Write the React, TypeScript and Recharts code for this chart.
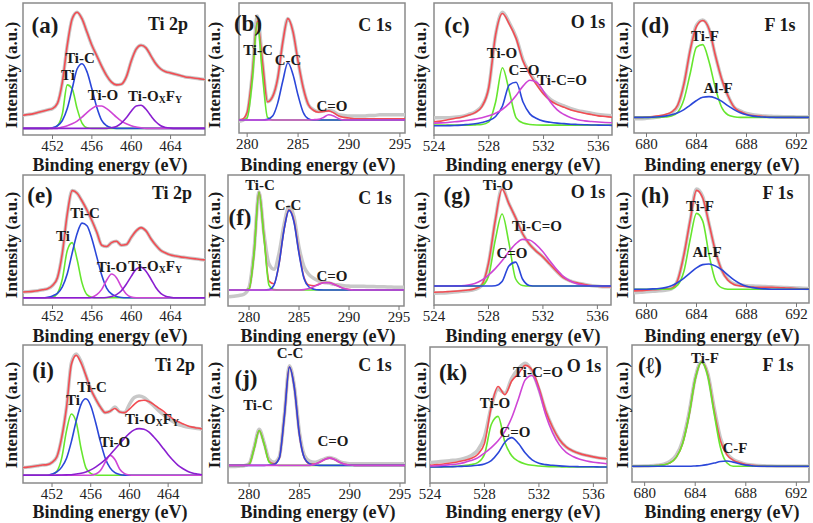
import React from "react";
import { LineChart, Line, XAxis, YAxis, ReferenceArea } from "recharts";

// binding-energy grids (eV)
const ti2pEV = [449,449.5,450,450.5,451,451.5,452,452.5,453,453.5,454,454.5,455,455.5,456,456.5,457,457.5,458,458.5,459,459.5,460,460.5,461,461.5,462,462.5,463,463.5,464,464.5,465,465.5,466,466.5,467,467.5];
const c1sEV = [278,278.5,279,279.5,280,280.5,281,281.5,282,282.5,283,283.5,284,284.5,285,285.5,286,286.5,287,287.5,288,288.5,289,289.5,290,290.5,291,291.5,292,292.5,293,293.5,294,294.5,295,295.5];
const o1sEV = [524,524.5,525,525.5,526,526.5,527,527.5,528,528.5,529,529.5,530,530.5,531,531.5,532,532.5,533,533.5,534,534.5,535,535.5,536,536.5,537];
const f1sEV = [679,679.5,680,680.5,681,681.5,682,682.5,683,683.5,684,684.5,685,685.5,686,686.5,687,687.5,688,688.5,689,689.5,690,690.5,691,691.5,692,692.5,693];

const tiTicks = [452, 456, 460, 464];
const cTicks = [280, 285, 290, 295];
const oTicks = [524, 528, 532, 536];
const fTicks = [680, 684, 688, 692];

// intensities, 0 = bottom of frame, 100 = top of frame
// (a) Ti 2p
const aEnv = [15,15.5,16,17,18,19, 20,24,40,68,88,93, 88,78,68,60,52,45, 40,38,38.5,44,56,65, 68,66,60,54,50,48, 47,46,45,44,43.5,43, 42.5,42];
const aTi = [5,5,5,5,5,5, 5,7,16,38,35,20, 9,5.5,5,5,5,5, 5,5,5,5,5,5, 5,5,5,5,5,5, 5,5,5,5,5,5, 5,5];
const aTiC = [5,5,5,5,5,5, 5.5,7,11,20,35,50, 54,48,35,21,11,7, 5.5,5,5,5,5,5, 5,5,5,5,5,5, 5,5,5,5,5,5, 5,5];
const aTiO = [5,5,5,5,5,5, 5,5,6,7,8.5,10.5, 13.5,17,20,22,22,20, 17,13.5,10.5,8.5,7,6, 5.5,5,5,5,5,5, 5,5,5,5,5,5, 5,5];
const aTiOF = [5,5,5,5,5,5, 5,5,5,5,5,5, 5,5,5,5,5,5, 5.5,6.5,9,13,18,22, 22.5,19.5,14.5,10,7,5.7, 5.2,5,5,5,5,5, 5,5];
// (e) Ti 2p
const eEnv = [10,10.2,10.5,11,11.7,12.5, 15,21,40,70,88,86, 80,73,65,56,46,45, 48,49,46,46.5,52,57, 59.5,57,51,46,42,40, 38.5,37.7,37,36.5,36,35.5, 35,34.7];
const eTi = [5.6,5.6,5.6,5.6,5.6,5.6, 6,9,20,42,48,35, 17,8,6,5.6,5.6,5.6, 5.6,5.6,5.6,5.6,5.6,5.6, 5.6,5.6,5.6,5.6,5.6,5.6, 5.6,5.6,5.6,5.6,5.6,5.6, 5.6,5.6];
const eTiC = [5.6,5.6,5.6,5.6,5.6,6, 7,9,14,24,40,55, 63,61,51,37,23,13, 8.5,6.5,5.8,5.6,5.6,5.6, 5.6,5.6,5.6,5.6,5.6,5.6, 5.6,5.6,5.6,5.6,5.6,5.6, 5.6,5.6];
const eTiO = [5.6,5.6,5.6,5.6,5.6,5.6, 5.6,5.6,5.6,5.6,5.6,5.6, 5.6,5.6,6,8,12,19, 23.8,21,14,8.5,6.2,5.6, 5.6,5.6,5.6,5.6,5.6,5.6, 5.6,5.6,5.6,5.6,5.6,5.6, 5.6,5.6];
const eTiOF = [5.6,5.6,5.6,5.6,5.6,5.6, 5.6,5.6,5.6,5.6,5.6,5.6, 5.6,5.6,5.6,5.6,5.6,5.8, 6.5,8,11,16,22,27.5, 29,26,20,13.5,9,6.8, 6,5.6,5.6,5.6,5.6,5.6, 5.6,5.6];
// (i) Ti 2p
const iEnv = [11.2,11.5,12,12.5,13,13.3, 15,19,33,55,86,92.5, 87,78,68,61,55,51, 52,54,51.5,51,53.5,57, 59.5,60,59,57,54.5,52, 49,46.5,44.5,43,41.5,40.5, 39.8,39.2];
const iRaw = [11.2,11.5,12,12.5,13,13.3, 15,19,33,55,87,93.5, 88,78,68,61,55,51, 52,55,51.5,51,57,62, 63,62,59,56,52.5,49.5, 47,44.5,42.5,41.5,40.5,40, 39.5,39];
const iTi = [5.6,5.6,5.6,5.6,5.6,5.6, 6,8.5,18,38,50,44, 25,11,7,5.8,5.6,5.6, 5.6,5.6,5.6,5.6,5.6,5.6, 5.6,5.6,5.6,5.6,5.6,5.6, 5.6,5.6,5.6,5.6,5.6,5.6, 5.6,5.6];
const iTiC = [5.6,5.6,5.6,5.6,5.6,5.6, 6.5,8,11.5,18,30,45, 57,61,56,44,30,18, 11,7.5,6.2,5.7,5.6,5.6, 5.6,5.6,5.6,5.6,5.6,5.6, 5.6,5.6,5.6,5.6,5.6,5.6, 5.6,5.6];
const iTiO = [5.6,5.6,5.6,5.6,5.6,5.6, 5.6,5.6,5.6,5.6,5.6,5.6, 5.6,5.6,5.6,6.5,9,15, 20,17,10,6.8,5.8,5.6, 5.6,5.6,5.6,5.6,5.6,5.6, 5.6,5.6,5.6,5.6,5.6,5.6, 5.6,5.6];
const iTiOF = [5.6,5.6,5.6,5.6,5.6,5.6, 5.6,5.7,5.8,5.9,6,6.5, 7,8,9.5,11.5,14,17, 20.5,24.5,28.5,32.5,36,38.5, 39.4,39,37,33.5,29.5,25, 20.5,16.5,13,10.5,8.5,7.2, 6.5,6];

// (b) C 1s
const bEnv = [10,10,10,10.5, 16,45,86,55, 24,28,42,70, 88,78,55,35, 22,17.5,16,16.5, 17,15.5,13,12, 11.5,11,11,11, 11,11,11,11, 11,11,11,11];
const bRaw = [9,9,9,9.5, 15,45,90,55, 24,28,42,70, 88,78,55,35, 22,18,16.5,17, 17.5,16.5,14,13.5, 13,13,13,13, 13.5,13.5,14,14, 14,14,14,14];
const bTiC = [10,10,10,10, 11.5,40,85,45, 12,10,10,10, 10,10,10,10, 10,10,10,10, 10,10,10,10, 10,10,10,10, 10,10,10,10, 10,10,10,10];
const bCC = [10,10,10,10, 10,10,10,10, 10.5,13,23,40, 54,45,29,16, 11,10,10,10, 10,10,10,10, 10,10,10,10, 10,10,10,10, 10,10,10,10];
const bCO = [10,10,10,10, 10,10,10,10, 10,10,10,10, 10,10,10,10, 10,10.2,10.5,12, 14,13,11,10, 10,10,10,10, 10,10,10,10, 10,10,10,10];
// (f) C 1s
const fEnv = [12.2,12.2,12.2,12.2, 13,40,87,53, 19,17,32,58, 73.5,65,41,22, 16,15.5,16.7,17.9, 17.9,16.6,14.9,13.3, 12.5,12.2,12.2,12.2, 12.2,12.2,12.2,12.2, 12.2,12.2,12.2,12.2];
const fRaw = [7,7.5,8,9, 14,42,87,55, 32,28,40,62, 76,68,45,30, 24,21,19,18, 17.5,16.5,16,15.5, 15.2,15,15,15, 14.8,14.8,14.6,14.6, 14.5,14.4,14.3,14.3];
const fTiC = [12.2,12.2,12.2,12.2, 13,40,87,52, 16,12.5,12.2,12.2, 12.2,12.2,12.2,12.2, 12.2,12.2,12.2,12.2, 12.2,12.2,12.2,12.2, 12.2,12.2,12.2,12.2, 12.2,12.2,12.2,12.2, 12.2,12.2,12.2,12.2];
const fCC = [12.2,12.2,12.2,12.2, 12.2,12.2,12.2,12.2, 12.5,16,32,58, 73,64,40,21, 14.5,12.8,12.3,12.2, 12.2,12.2,12.2,12.2, 12.2,12.2,12.2,12.2, 12.2,12.2,12.2,12.2, 12.2,12.2,12.2,12.2];
const fCO = [12.2,12.2,12.2,12.2, 12.2,12.2,12.2,12.2, 12.2,12.2,12.2,12.2, 12.2,12.2,12.2,12.5, 13.3,14.8,16.5,17.8, 17.8,16.5,14.8,13.3, 12.5,12.2,12.2,12.2, 12.2,12.2,12.2,12.2, 12.2,12.2,12.2,12.2];
// (j) C 1s
const jEnv = [12.8,12.8,12.8,12.8, 13.5,25,38,28, 15.5,14,18,48, 84,69,35,18, 14,13.7,15,17, 18,17,15,13.5, 13,12.8,12.8,12.8, 12.8,12.8,12.8,12.8, 12.8,12.8,12.8,12.8];
const jRaw = [12,12,12.2,12.5, 14,26,39,29, 17,15,19,49, 85,70,37,20, 16,15,16,17.5, 18.5,17.5,15.5,14.5, 14,14,14,14, 14,14,14,14, 14,14,14,14];
const jTiC = [12.8,12.8,12.8,12.8, 13.5,25,38,28, 15,13,12.8,12.8, 12.8,12.8,12.8,12.8, 12.8,12.8,12.8,12.8, 12.8,12.8,12.8,12.8, 12.8,12.8,12.8,12.8, 12.8,12.8,12.8,12.8, 12.8,12.8,12.8,12.8];
const jCC = [12.8,12.8,12.8,12.8, 12.8,12.8,12.8,12.8, 13,13.5,18,48, 84,69,35,18, 14,13,12.8,12.8, 12.8,12.8,12.8,12.8, 12.8,12.8,12.8,12.8, 12.8,12.8,12.8,12.8, 12.8,12.8,12.8,12.8];
const jCO = [12.8,12.8,12.8,12.8, 12.8,12.8,12.8,12.8, 12.8,12.8,12.8,12.8, 12.8,12.8,12.8,12.8, 12.8,13.5,15,17, 18,17,15,13.5, 13,12.8,12.8,12.8, 12.8,12.8,12.8,12.8, 12.8,12.8,12.8,12.8];

// (c) O 1s
const cEnv = [10,10.5,11.5,12.5,13.5,15, 17,21.5,36,76,92,84, 73,56,46,38,31,26, 23,21,19,17.6,16.5,15.5, 14.5,14,13.5];
const cRaw = [13,13,13,13.5,14,15.5, 17.5,22,36,76,93,85, 74,57,47,39,32,27, 24,22,20,18.5,17.5,16.5, 15.5,15,14.5];
const cTiO = [7.5,7.5,7.5,7.5,7.5,7.5, 7.7,8,10,25,51,33, 13,9,8,7.6,7.5,7.5, 7.5,7.5,7.5,7.5,7.5,7.5, 7.5,7.5,7.5];
const cCO = [7,7,7.1,7.2,7.5,8, 8.5,9.5,11,14,22,38, 40,25,16,12.5,10.5,9.6, 9,8.6,8.2,8,7.8,7.6, 7.5,7.4,7.3];
const cTiCO = [9,9.2,9.5,10,10.5,11.2, 12,13,14.5,16.5,19.5,24, 30,37,41.5,40,33,25, 19,15.5,13,11.5,10.7,10.2, 9.8,9.5,9.3];
// (g) O 1s
const gEnv = [9.8,10,10.3,10.6,11,11.5, 12.5,15.4,32,65,89,78, 67,55,47,41.5,37,31.5, 26,21,18.5,17,16,15, 14.5,14,14];
const gRaw = [9,9.2,9.5,10,10.5,11, 12,15,32,65,90,78, 67,55,47,41.5,37,31.5, 26,21,18.5,17,16,15, 14.5,14,14];
const gTiO = [14.6,14.6,14.6,14.6,14.6,14.6, 14.6,15,22,50,70,48, 20,15,14.6,14.6,14.6,14.6, 14.6,14.6,14.6,14.6,14.6,14.6, 14.6,14.6,14.6];
const gCO = [14.6,14.6,14.6,14.6,14.6,14.6, 14.6,14.6,14.6,14.8,18,30, 33,20,15,14.6,14.6,14.6, 14.6,14.6,14.6,14.6,14.6,14.6, 14.6,14.6,14.6];
const gTiCO = [14.6,14.6,14.6,14.7,14.8,15.3, 16.5,19,23,28,34,41, 47,50.5,50,46.5,41,34, 27.5,22,18.5,16.3,15.2,14.8, 14.6,14.6,14.6];
// (k) O 1s
const kEnv = [13,13.5,14,14.7,15.5,16.5, 18,21,29,56,71,65, 75,80.5,86.5,83,70,53, 41,32,26.5,23.5,21.6,20.3, 19.2,18.3,17.8];
const kRaw = [15,15.5,16,16.5,17,18, 20,24,34,56,69,66, 77,84,88,82,69,53, 41,32,26.5,23.5,21.6,20.3, 19.2,18.3,17.8];
const kTiO = [11.8,11.8,11.8,11.9,12.3,12.8, 13.5,15,21,43,49,30, 20,16,14,13,12.5,12.2, 12,11.9,11.8,11.8,11.8,11.8, 11.8,11.8,11.8];
const kCO = [11.8,11.8,11.9,12,12.1,12.3, 12.5,13,14,16.5,22,30, 33.4,29,22,17,14.5,13.5, 13,12.6,12.3,12.1,12,11.9, 11.9,11.8,11.8];
const kTiCO = [12.5,12.7,13,13.5,14,15, 16.5,18.5,22,26,31,38, 48,62,76,79,68,50, 37,28,22.5,19.5,17.5,16.2, 15.3,14.7,14.2];

// (d) F 1s
const dEnv = [12,12,12.3,12.7,13.3,14.3, 16,21.5,38,64,82,86.5, 80,60,42,29,20,16.5, 14.5,13.5,13,12.6,12.3,12, 12,12,12,12,12];
const dRaw = [11,11,11.3,11.8,12.5,13.5, 15.5,21,38,64,83,87, 80,60,42,29,20,17, 15,14,13.5,13,12.8,12.6, 12.5,12.5,12.4,12.4,12.3];
const dTiF = [12,12,12,12,12,12.3, 13,16,26,46,66,68, 55,35,20,14,12.5,12, 12,12,12,12,12,12, 12,12,12,12,12];
const dAlF = [12,12,12,12.2,12.5,13, 14,15.5,18,21.5,25,27.5, 28,27,24.5,21,18,15.5, 14,13,12.5,12.2,12,12, 12,12,12,12,12];
// (h) F 1s
const hEnv = [9.5,9.7,10,10.3,10.6,11, 11.5,18,38,65,88,82, 62,41,26,18,14.5,13.3, 12.8,12.5,12.3,12.2,12.2,12, 11.8,11.6,11.3,11.1,11];
const hRaw = [8,8.3,8.7,9.1,9.5,10, 11,18,38,65,89,83, 62,41,26,18.5,15,14, 13.5,13.3,13,12.8,12.6,12.4, 12.2,12,11.8,11.5,11.3];
const hTiF = [10.7,10.7,10.7,10.7,10.7,10.7, 11,14,25,50,70,64, 38,18,12,10.8,10.7,10.7, 10.7,10.7,10.7,10.7,10.7,10.7, 10.7,10.7,10.7,10.7,10.7];
const hAlF = [10.7,10.7,10.8,11,11.3,12, 13.5,16,19.5,23.5,27.5,30, 30.5,29,26,22,18,15, 13,12,11.3,11,10.8,10.7, 10.7,10.7,10.7,10.7,10.7];
// (l) F 1s
const lEnv = [11.5,11.5,11.6,11.8,12,12.5, 14,18,28,48,75,87.5, 78,52,30,20,16,14, 12.8,12.2,11.8,11.6,11.5,11.5, 11.5,11.5,11.5,11.5,11.5];
const lRaw = [11.5,11.5,11.6,11.8,12.2,13, 15,19.5,30,50,76,88, 79,54,32,21,16.5,14.5, 13,12.5,12,11.8,11.6,11.5, 11.5,11.5,11.5,11.5,11.5];
const lTiF = [11.5,11.5,11.6,11.8,12,12.5, 14,18,28,48,75,87.5, 77,50,25,14,11.5,11.5, 11.5,11.5,11.5,11.5,11.5,11.5, 11.5,11.5,11.5,11.5,11.5];
const lCF = [11.5,11.5,11.5,11.5,11.5,11.5, 11.5,11.5,11.5,11.5,11.7,12, 12.8,13.8,15,15.3,14.5,13.3, 12.3,11.8,11.5,11.5,11.5,11.5, 11.5,11.5,11.5,11.5,11.5];

const W = 813;
const H = 523;
const SERIF = "Liberation Serif";
const RAW = "#c8c8c8";
const ENV = "#f24c52";
const GREEN = "#66e62e";
const BLUE = "#2b47d9";
const MAG = "#cf45d6";
const PURPLE = "#8a1fd0";

type Trace = [string, number[], string];
type PanelDef = {
  frame: [number, number, number, number];
  x: number[];
  domain: [number, number];
  ticks: number[];
  lines: Trace[];
};

const panels: PanelDef[] = [
  { frame: [23, 3, 205, 135], x: ti2pEV, domain: [449, 467.5], ticks: tiTicks,
    lines: [["raw", aEnv, RAW], ["env", aEnv, ENV], ["g", aTi, GREEN], ["b", aTiC, BLUE], ["m", aTiO, MAG], ["p", aTiOF, PURPLE]] },
  { frame: [239, 3, 405, 133], x: c1sEV, domain: [279.2, 295.5], ticks: cTicks,
    lines: [["raw", bRaw, RAW], ["env", bEnv, ENV], ["g", bTiC, GREEN], ["b", bCC, BLUE], ["m", bCO, MAG]] },
  { frame: [434, 3, 612, 135], x: o1sEV, domain: [524, 537], ticks: oTicks,
    lines: [["raw", cRaw, RAW], ["env", cEnv, ENV], ["g", cTiO, GREEN], ["b", cCO, BLUE], ["m", cTiCO, MAG]] },
  { frame: [634, 3, 809, 133], x: f1sEV, domain: [679, 693], ticks: fTicks,
    lines: [["raw", dRaw, RAW], ["env", dEnv, ENV], ["g", dTiF, GREEN], ["b", dAlF, BLUE]] },
  { frame: [23, 175, 205, 305], x: ti2pEV, domain: [449, 467.5], ticks: tiTicks,
    lines: [["raw", eEnv, RAW], ["env", eEnv, ENV], ["g", eTi, GREEN], ["b", eTiC, BLUE], ["m", eTiO, MAG], ["p", eTiOF, PURPLE]] },
  { frame: [228, 175, 404, 306], x: c1sEV, domain: [277.9, 295.5], ticks: cTicks,
    lines: [["raw", fRaw, RAW], ["env", fEnv, ENV], ["g", fTiC, GREEN], ["b", fCC, BLUE], ["m", fCO, MAG]] },
  { frame: [434, 175, 611, 305], x: o1sEV, domain: [524, 537], ticks: oTicks,
    lines: [["raw", gRaw, RAW], ["env", gEnv, ENV], ["g", gTiO, GREEN], ["m", gTiCO, MAG], ["b", gCO, BLUE]] },
  { frame: [634, 175, 809, 303], x: f1sEV, domain: [679, 693], ticks: fTicks,
    lines: [["raw", hRaw, RAW], ["env", hEnv, ENV], ["g", hTiF, GREEN], ["b", hAlF, BLUE]] },
  { frame: [23, 345, 202, 483], x: ti2pEV, domain: [449, 467.5], ticks: tiTicks,
    lines: [["raw", iRaw, RAW], ["env", iEnv, ENV], ["g", iTi, GREEN], ["b", iTiC, BLUE], ["m", iTiO, MAG], ["p", iTiOF, PURPLE]] },
  { frame: [228, 345, 405, 483], x: c1sEV, domain: [277.9, 295.5], ticks: cTicks,
    lines: [["raw", jRaw, RAW], ["env", jEnv, ENV], ["g", jTiC, GREEN], ["b", jCC, BLUE], ["m", jCO, MAG]] },
  { frame: [430, 347, 607, 483], x: o1sEV, domain: [524, 537], ticks: oTicks,
    lines: [["raw", kRaw, RAW], ["env", kEnv, ENV], ["g", kTiO, GREEN], ["b", kCO, BLUE], ["m", kTiCO, MAG]] },
  { frame: [632, 345, 809, 482], x: f1sEV, domain: [679, 693], ticks: fTicks,
    lines: [["raw", lRaw, RAW], ["env", lEnv, ENV], ["g", lTiF, GREEN], ["b", lCF, BLUE]] },
];

function Panel({ p }: { p: PanelDef }) {
  const rows = p.x.map((ev, i) => {
    const row: Record<string, number> = { ev };
    p.lines.forEach(([k, vals]) => { row[k] = vals[i]; });
    return row;
  });
  const [l, t, r, b] = p.frame;
  return (
    <div style={{ position: "absolute", left: 0, top: 0 }}>
      <LineChart width={W} height={H} data={rows}
        margin={{ left: l, top: t, right: W - r, bottom: H - b - 24 }}>
        <XAxis dataKey="ev" type="number" domain={p.domain} ticks={p.ticks} allowDataOverflow
          height={24} interval={0} axisLine={false} tickSize={4} tickMargin={1}
          tickLine={{ stroke: "#777" }}
          tick={{ fill: "#222", fontSize: 15, fontFamily: SERIF }} />
        <YAxis hide type="number" domain={[0, 100]} allowDataOverflow />
        <ReferenceArea x1={p.domain[0]} x2={p.domain[1]} y1={0} y2={100}
          fill="none" stroke="#8a8a8a" strokeWidth={1.5} />
        {p.lines.map(([k, , color]) => (
          <Line key={k} type="monotone" dataKey={k} stroke={color}
            strokeWidth={k === "raw" ? 3.5 : 1.6} dot={false} isAnimationActive={false} />
        ))}
      </LineChart>
    </div>
  );
}

function Txt({ x, y, size = 15, rot, children }: { x: number; y: number; size?: number; rot?: boolean; children: React.ReactNode }) {
  return (
    <div style={{
      position: "absolute", left: x, top: y, fontFamily: SERIF, fontWeight: "bold",
      fontSize: size, lineHeight: 1, color: "#1a1a1a", whiteSpace: "nowrap",
      transform: `translate(-50%, -50%)${rot ? " rotate(-90deg)" : ""}`,
    }}>{children}</div>
  );
}

const sub = { fontSize: "0.65em", verticalAlign: "-0.2em" };
const OxFy = () => (<>Ti-O<span style={sub}>X</span>F<span style={sub}>Y</span></>);

const colX = [110, 318, 523, 722];
const rowTitleY = [165, 336, 512];
const intensX = [11, 214, 420, 622];
const intensY = [75, 245, 415];

export default function App() {
  return (
    <div style={{ position: "absolute", left: 0, top: 0, width: W, height: H, background: "#fff", overflow: "hidden" }}>
      {panels.map((p, i) => <Panel key={i} p={p} />)}

      {rowTitleY.map((y) => colX.map((x) => (
        <Txt key={`t${x}-${y}`} x={x} y={y} size={18}>Binding energy (eV)</Txt>
      )))}
      {intensY.map((y) => intensX.map((x) => (
        <Txt key={`i${x}-${y}`} x={x} y={y} size={17} rot>Intensity (a.u.)</Txt>
      )))}

      {/* row 1 */}
      <Txt x={45} y={25} size={23}>(a)</Txt>
      <Txt x={168} y={24} size={18}>Ti 2p</Txt>
      <Txt x={80} y={58}>Ti-C</Txt>
      <Txt x={68} y={75}>Ti</Txt>
      <Txt x={103} y={95}>Ti-O</Txt>
      <Txt x={155} y={97}><OxFy /></Txt>

      <Txt x={248} y={23} size={23}>(b)</Txt>
      <Txt x={375} y={25} size={18}>C 1s</Txt>
      <Txt x={258} y={50}>Ti-C</Txt>
      <Txt x={288} y={60}>C-C</Txt>
      <Txt x={332} y={106}>C=O</Txt>

      <Txt x={457} y={25} size={23}>(c)</Txt>
      <Txt x={588} y={22} size={18}>O 1s</Txt>
      <Txt x={502} y={53}>Ti-O</Txt>
      <Txt x={524} y={70}>C=O</Txt>
      <Txt x={562} y={80}>Ti-C=O</Txt>

      <Txt x={655} y={25} size={23}>(d)</Txt>
      <Txt x={780} y={25} size={18}>F 1s</Txt>
      <Txt x={705} y={36}>Ti-F</Txt>
      <Txt x={718} y={88}>Al-F</Txt>

      {/* row 2 */}
      <Txt x={40} y={195} size={23}>(e)</Txt>
      <Txt x={172} y={193} size={18}>Ti 2p</Txt>
      <Txt x={85} y={213}>Ti-C</Txt>
      <Txt x={63} y={236}>Ti</Txt>
      <Txt x={112} y={267}>Ti-O</Txt>
      <Txt x={155} y={267}><OxFy /></Txt>

      <Txt x={240} y={217} size={23}>(f)</Txt>
      <Txt x={375} y={198} size={18}>C 1s</Txt>
      <Txt x={260} y={185}>Ti-C</Txt>
      <Txt x={288} y={205}>C-C</Txt>
      <Txt x={332} y={276}>C=O</Txt>

      <Txt x={457} y={195} size={23}>(g)</Txt>
      <Txt x={588} y={192} size={18}>O 1s</Txt>
      <Txt x={498} y={185}>Ti-O</Txt>
      <Txt x={537} y={226}>Ti-C=O</Txt>
      <Txt x={512} y={253}>C=O</Txt>

      <Txt x={655} y={195} size={23}>(h)</Txt>
      <Txt x={778} y={193} size={18}>F 1s</Txt>
      <Txt x={700} y={206}>Ti-F</Txt>
      <Txt x={707} y={252}>Al-F</Txt>

      {/* row 3 */}
      <Txt x={43} y={370} size={23}>(i)</Txt>
      <Txt x={175} y={365} size={18}>Ti 2p</Txt>
      <Txt x={92} y={387}>Ti-C</Txt>
      <Txt x={73} y={400}>Ti</Txt>
      <Txt x={115} y={442}>Ti-O</Txt>
      <Txt x={152} y={420}><OxFy /></Txt>

      <Txt x={246} y={378} size={23}>(j)</Txt>
      <Txt x={375} y={365} size={18}>C 1s</Txt>
      <Txt x={290} y={353}>C-C</Txt>
      <Txt x={258} y={405}>Ti-C</Txt>
      <Txt x={333} y={441}>C=O</Txt>

      <Txt x={453} y={372} size={23}>(k)</Txt>
      <Txt x={584} y={366} size={18}>O 1s</Txt>
      <Txt x={538} y={372}>Ti-C=O</Txt>
      <Txt x={495} y={403}>Ti-O</Txt>
      <Txt x={515} y={432}>C=O</Txt>

      <Txt x={650} y={365} size={23}>(ℓ)</Txt>
      <Txt x={778} y={365} size={18}>F 1s</Txt>
      <Txt x={705} y={358}>Ti-F</Txt>
      <Txt x={735} y={448}>C-F</Txt>
    </div>
  );
}
